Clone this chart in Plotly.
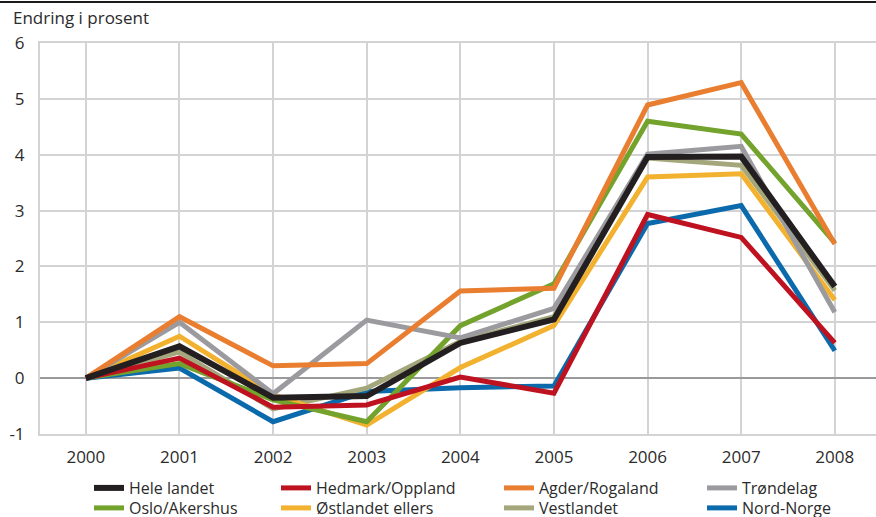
import plotly.graph_objects as go

years = [2000, 2001, 2002, 2003, 2004, 2005, 2006, 2007, 2008]

hele_landet = [0, 0.57, -0.35, -0.32, 0.63, 1.05, 3.96, 3.97, 1.64]
hedmark_oppland = [0, 0.36, -0.52, -0.48, 0.02, -0.27, 2.93, 2.52, 0.63]
agder_rogaland = [0, 1.10, 0.22, 0.26, 1.56, 1.61, 4.89, 5.29, 2.40]
trondelag = [0, 1.00, -0.28, 1.04, 0.72, 1.25, 4.01, 4.15, 1.18]
oslo_akershus = [0, 0.26, -0.39, -0.78, 0.94, 1.69, 4.60, 4.37, 2.42]
ostlandet_ellers = [0, 0.75, -0.30, -0.84, 0.19, 0.94, 3.60, 3.66, 1.40]
vestlandet = [0, 0.47, -0.55, -0.18, 0.66, 1.10, 3.94, 3.81, 1.57]
nord_norge = [0, 0.18, -0.78, -0.24, -0.17, -0.14, 2.77, 3.09, 0.49]

y_ticks = [-1, 0, 1, 2, 3, 4, 5, 6]
y_tick_labels = ["-1", "0", "1", "2", "3", "4", "5", "6"]

# (name, values, colour, width, legend column, legend row)
series = [
    ("Nord-Norge", nord_norge, "#0b6aab", 5, 3, 1),
    ("Vestlandet", vestlandet, "#a3a77b", 5, 2, 1),
    ("Østlandet ellers", ostlandet_ellers, "#f2b22f", 5, 1, 1),
    ("Oslo/Akershus", oslo_akershus, "#73a32c", 5, 0, 1),
    ("Trøndelag", trondelag, "#9b9b9f", 5, 3, 0),
    ("Agder/Rogaland", agder_rogaland, "#e97e30", 5, 2, 0),
    ("Hedmark/Oppland", hedmark_oppland, "#be1220", 5, 1, 0),
    ("Hele landet", hele_landet, "#231f20", 6, 0, 0),
]

W, H = 876, 517
L, R, T, B = 40, 0, 43, 83
pw = W - L - R
ph = H - T - B

def px_x(px):
    return (px - L) / pw

def px_y(py):
    return (H - B - py) / ph

font = dict(family="Open Sans", size=17, color="#2b2b2b")
legend_font = dict(family="Open Sans", size=16, color="#2b2b2b")
tick_font = dict(family="Open Sans", size=17, color="#2b2b2b")
grid = "#d3d3d6"

legend_x = [89, 276, 499, 702]
legend_y = [488, 508]

fig = go.Figure()
legends = {}
for i, (name, vals, col, w, c, r) in enumerate(series):
    key = "legend" if i == 0 else f"legend{i + 1}"
    fig.add_trace(go.Scatter(
        x=years, y=vals, mode="lines", name=name,
        line=dict(color=col, width=w),
        legend=key, hoverinfo="skip",
    ))
    legends[key] = dict(
        x=px_x(legend_x[c]), y=px_y(legend_y[r]),
        xanchor="left", yanchor="middle", orientation="v",
        bgcolor="rgba(0,0,0,0)", font=legend_font, itemwidth=30,
        borderwidth=0,
    )

fig.update_layout(
    width=W, height=H,
    margin=dict(l=L, r=R, t=T, b=B, pad=0, autoexpand=False),
    paper_bgcolor="white", plot_bgcolor="white",
    font=font,
    showlegend=True,
    xaxis=dict(
        range=[1999.51, 2008.44], tickvals=years, ticktext=[str(y) for y in years],
        showgrid=True, gridcolor=grid, gridwidth=2,
        showline=True, linecolor=grid, linewidth=2, mirror=True,
        zeroline=False, ticks="", ticklabelstandoff=7, tickfont=tick_font,
        fixedrange=True,
    ),
    yaxis=dict(
        range=[-1, 6], tickvals=y_ticks, ticktext=y_tick_labels,
        showgrid=True, gridcolor=grid, gridwidth=2,
        showline=True, linecolor=grid, linewidth=2,
        zeroline=True, zerolinecolor="#9a9a9c", zerolinewidth=2,
        ticks="", ticklabelstandoff=10, tickfont=tick_font,
        fixedrange=True,
    ),
    annotations=[dict(
        text="Endring i prosent", xref="paper", yref="paper",
        x=px_x(11), y=px_y(18), xanchor="left", yanchor="middle",
        showarrow=False, font=font,
    )],
    shapes=[dict(
        type="line", xref="paper", yref="paper",
        x0=px_x(0), x1=px_x(W), y0=px_y(2), y1=px_y(2),
        line=dict(color="#1a1a1a", width=2),
    )],
    **legends,
)

fig.write_html(
    "out.html",
    config={"displayModeBar": False},
    post_script="document.body.style.margin='0';document.body.style.overflow='hidden';",
)
